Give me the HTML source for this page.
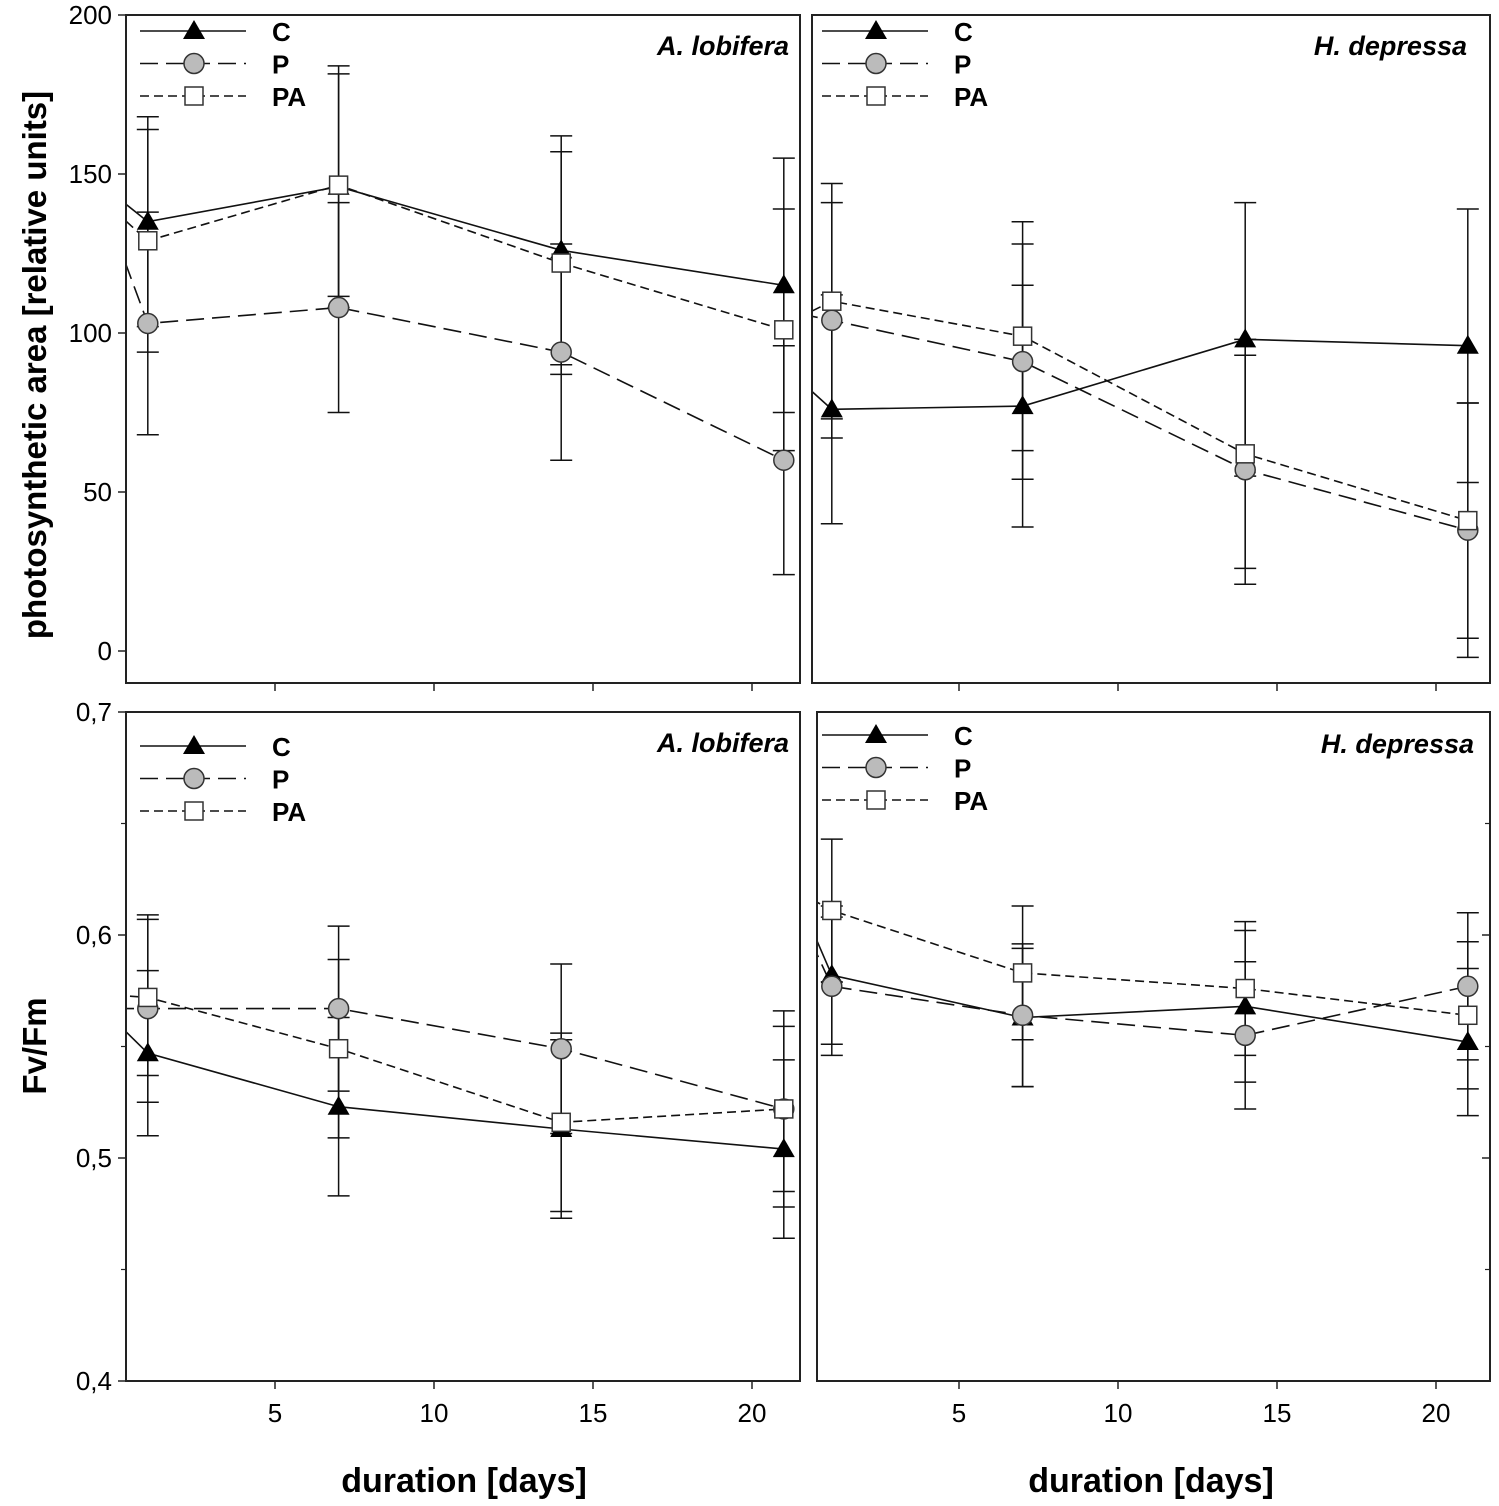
<!DOCTYPE html>
<html><head><meta charset="utf-8"><style>
body{margin:0;background:#fff}
svg{display:block;font-family:"Liberation Sans",sans-serif}
</style></head><body>
<svg id="fig" width="1499" height="1506" viewBox="0 0 1499 1506" xmlns="http://www.w3.org/2000/svg">
<text transform="translate(46,365) rotate(-90)" text-anchor="middle" font-size="33" font-weight="bold">photosynthetic area [relative units]</text>
<text transform="translate(46,1046) rotate(-90)" text-anchor="middle" font-size="33" font-weight="bold">Fv/Fm</text>
<text x="464" y="1492" text-anchor="middle" font-size="34" font-weight="bold">duration [days]</text>
<text x="1151" y="1492" text-anchor="middle" font-size="34" font-weight="bold">duration [days]</text>
</svg>
<script>
const days = [0, 1, 7, 14, 21];
const seriesNames = ["C", "P", "PA"];
// top-left A. lobifera photosynthetic area
const tlC = [143, 135, 146, 126, 115];
const tlP = [130, 103, 108, 94, 60];
const tlPA = [138, 129, 146.5, 122, 101];
const tlCerr = [0, 33, 38, 36, 40];
const tlPerr = [0, 35, 33, 34, 36];
const tlPAerr = [0, 35, 35, 35, 38];
// top-right H. depressa
const trC = [85, 76, 77, 98, 96];
const trP = [106, 104, 91, 57, 38];
const trPA = [105, 110, 99, 62, 41];
const trCerr = [0, 36, 38, 43, 43];
const trPerr = [0, 37, 37, 36, 40];
const trPAerr = [0, 37, 36, 36, 37];
// bottom-left A. lobifera Fv/Fm
const blC = [0.561, 0.547, 0.523, 0.513, 0.504];
const blP = [0.567, 0.567, 0.567, 0.549, 0.522];
const blPA = [0.573, 0.572, 0.549, 0.516, 0.522];
const blCerr = [0, 0.037, 0.04, 0.04, 0.04];
const blPerr = [0, 0.042, 0.037, 0.038, 0.044];
const blPAerr = [0, 0.035, 0.04, 0.04, 0.037];
// bottom-right H. depressa Fv/Fm
const brC = [0.615, 0.582, 0.563, 0.568, 0.552];
const brP = [0.608, 0.577, 0.564, 0.555, 0.577];
const brPA = [0.619, 0.611, 0.583, 0.576, 0.564];
const brCerr = [0, 0.031, 0.031, 0.034, 0.033];
const brPerr = [0, 0.031, 0.032, 0.033, 0.033];
const brPAerr = [0, 0.032, 0.03, 0.03, 0.033];
const xTicks = [5, 10, 15, 20];
const topYTicks = [0, 50, 100, 150, 200];
const botYTicks = [0.4, 0.5, 0.6, 0.7];
const botYLabels = ["0,4", "0,5", "0,6", "0,7"];

const NS = "http://www.w3.org/2000/svg";
const svg = document.getElementById("fig");
function mk(tag, attrs, parent) {
  const e = document.createElementNS(NS, tag);
  for (const k in attrs) e.setAttribute(k, attrs[k]);
  (parent || svg).appendChild(e);
  return e;
}
const dashes = {C: "none", P: "18 8", PA: "9 5"};

function marker(g, name, x, y) {
  let e;
  if (name === "C") e = mk("path", {d: `M${x} ${y-11}L${x+11} ${y+8}L${x-11} ${y+8}Z`, fill: "#000"}, g);
  else if (name === "P") e = mk("circle", {cx: x, cy: y, r: 10, fill: "#bbb", stroke: "#333", "stroke-width": 1.5}, g);
  else e = mk("rect", {x: x-9, y: y-9, width: 18, height: 18, fill: "#fff", stroke: "#333", "stroke-width": 1.5}, g);
  
  
}

function panel(cfg) {
  const {id, L, R, T, B, x0, xs, y0, ys, vals, errs, title, titleX, titleY, legX, legY, yLeft, yRight, yTicks, yLabels, minor} = cfg;
  const X = d => x0 + d * xs;
  const Y = v => y0 - (v - cfg.yBase) * ys;
  const g = mk("g", {});
  
  
  const cid = id + "-clip";
  const cp = mk("clipPath", {id: cid}, g);
  mk("rect", {x: L, y: T, width: R - L, height: B - T}, cp);
  const plot = mk("g", {"clip-path": `url(#${cid})`}, g);
  seriesNames.forEach((n, si) => {
    for (let i = 1; i < days.length; i++) {
      const x = X(days[i]), v = vals[si][i], e = errs[si][i];
      const eb = mk("path", {d: `M${x} ${Y(v+e)}V${Y(v-e)}M${x-11} ${Y(v+e)}H${x+11}M${x-11} ${Y(v-e)}H${x+11}`, stroke: "#111", "stroke-width": 1.5, fill: "none"}, plot);
      
      
    }
  });
  seriesNames.forEach((n, si) => {
    const pts = days.map((d, i) => X(d) + "," + Y(vals[si][i])).join(" ");
    const ln = mk("polyline", {points: pts, fill: "none", stroke: "#111", "stroke-width": 1.6, "stroke-dasharray": dashes[n]}, plot);
    
    
  });
  seriesNames.forEach((n, si) => {
    for (let i = 1; i < days.length; i++) marker(plot, n, X(days[i]), Y(vals[si][i]));
  });
  const fr = mk("rect", {x: L, y: T, width: R - L, height: B - T, fill: "none", stroke: "#222", "stroke-width": 2}, g);
  
  
  xTicks.forEach(t => {
    mk("line", {x1: X(t), x2: X(t), y1: B, y2: B + 8, stroke: "#222", "stroke-width": 1.5}, g);
    if (cfg.xLabels) {
      const tl = mk("text", {x: X(t), y: B + 41, "text-anchor": "middle", "font-size": 26}, g);
      tl.textContent = t;
      
      
    }
  });
  yTicks.forEach((t, i) => {
    if (yLeft) {
      mk("line", {x1: L - 8, x2: L, y1: Y(t), y2: Y(t), stroke: "#222", "stroke-width": 1.5}, g);
      const tl = mk("text", {x: L - 14, y: Y(t) + 9, "text-anchor": "end", "font-size": 26}, g);
      tl.textContent = yLabels[i];
      
      
    }
    if (yRight) mk("line", {x1: R - 8, x2: R, y1: Y(t), y2: Y(t), stroke: "#222", "stroke-width": 1.5}, g);
  });
  (minor || []).forEach(t => {
    if (yLeft) mk("line", {x1: L - 5, x2: L, y1: Y(t), y2: Y(t), stroke: "#222", "stroke-width": 1.2}, g);
    if (yRight) mk("line", {x1: R - 5, x2: R, y1: Y(t), y2: Y(t), stroke: "#222", "stroke-width": 1.2}, g);
  });
  const tt = mk("text", {x: titleX, y: titleY, "text-anchor": "end", "font-size": 27, "font-weight": "bold", "font-style": "italic"}, g);
  tt.textContent = title;
  
  
  seriesNames.forEach((n, si) => {
    const y = legY + si * 32.5;
    const lg = mk("g", {}, g);
    
    
    mk("line", {x1: legX, x2: legX + 106, y1: y, y2: y, stroke: "#111", "stroke-width": 1.6, "stroke-dasharray": dashes[n]}, lg);
    marker(lg, n, legX + 54, y);
    const t = mk("text", {x: legX + 132, y: y + 10, "font-size": 26, "font-weight": "bold"}, lg);
    t.textContent = n;
  });
}

const topYL = topYTicks.map(String);
panel({id: "top-left", L: 126, R: 800, T: 15, B: 683, x0: 116, xs: 31.8, yBase: 0, y0: 651, ys: 3.18,
  vals: [tlC, tlP, tlPA], errs: [tlCerr, tlPerr, tlPAerr], title: "A. lobifera", titleX: 789, titleY: 55,
  legX: 140, legY: 31, yLeft: true, yRight: false, yTicks: topYTicks, yLabels: topYL, minor: [], xLabels: false});
panel({id: "top-right", L: 812, R: 1490, T: 15, B: 683, x0: 800, xs: 31.8, yBase: 0, y0: 651, ys: 3.18,
  vals: [trC, trP, trPA], errs: [trCerr, trPerr, trPAerr], title: "H. depressa", titleX: 1467, titleY: 55,
  legX: 822, legY: 31, yLeft: false, yRight: false, yTicks: topYTicks, yLabels: topYL, minor: [], xLabels: false});
panel({id: "bottom-left", L: 126, R: 800, T: 712, B: 1381, x0: 116, xs: 31.8, yBase: 0.5, y0: 1158, ys: 2230,
  vals: [blC, blP, blPA], errs: [blCerr, blPerr, blPAerr], title: "A. lobifera", titleX: 789, titleY: 752,
  legX: 140, legY: 746, yLeft: true, yRight: false, yTicks: botYTicks, yLabels: botYLabels, minor: [0.45, 0.55, 0.65], xLabels: true});
panel({id: "bottom-right", L: 817, R: 1490, T: 712, B: 1381, x0: 800, xs: 31.8, yBase: 0.5, y0: 1158, ys: 2230,
  vals: [brC, brP, brPA], errs: [brCerr, brPerr, brPAerr], title: "H. depressa", titleX: 1474, titleY: 753,
  legX: 822, legY: 735, yLeft: false, yRight: true, yTicks: [0.5, 0.6], yLabels: botYLabels, minor: [0.45, 0.55, 0.65], xLabels: true});
</script>
</body></html>
